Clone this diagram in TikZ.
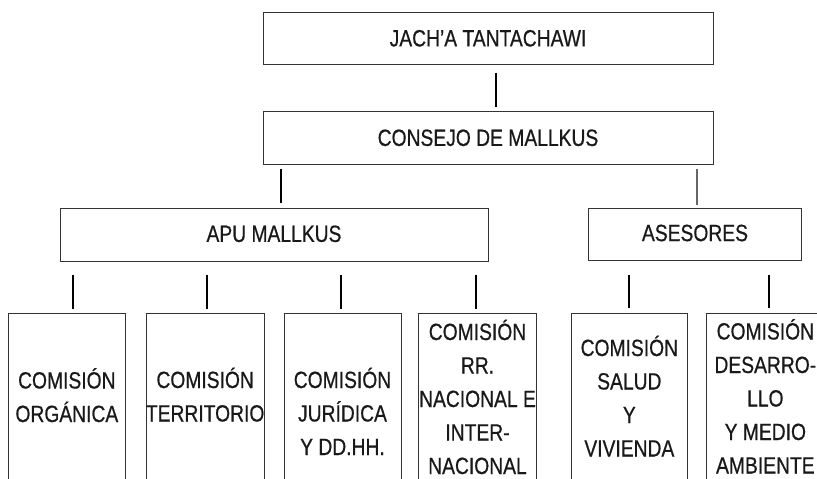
\documentclass[tikz,border=0pt]{standalone}
\usepackage{fontspec}
\setmainfont{Liberation Sans}[FakeStretch=0.82, FakeBold=0.6]
\newcommand\linestack[1]{\vtop{\baselineskip=33.5pt\lineskiplimit=-\maxdimen\lineskip=0pt\halign{\hfil##\hfil\cr#1\crcr}}}
\tikzset{
  box/.style={draw=black!80, line width=1pt, inner sep=0pt},
  lbl/.style={font=\fontsize{23.5pt}{33.5pt}\selectfont, text=black!90},
  capt/.style={lbl, text height=16.8pt, text depth=0pt},
  stacktext/.style={lbl, anchor=base, inner sep=0pt},
  conn/.style={line width=2pt, black},
  thinconn/.style={line width=1.2pt, black!60},
}
\begin{document}
\begin{tikzpicture}[x=1pt, y=-1pt]
\useasboundingbox (0,0) rectangle (817,479);
\clip (0,0) rectangle (817,479);

% upper boxes
\node[box, capt, minimum width=450pt, minimum height=52pt] (jach) at (488,38) {JACH’A TANTACHAWI};
\node[box, capt, minimum width=450pt, minimum height=53pt] (cons) at (488,137.5) {CONSEJO DE MALLKUS};
\node[box, capt, minimum width=428pt, minimum height=53.4pt, text depth=3pt] (apu) at (274,235) {APU MALLKUS};
\node[box, capt, minimum width=213.4pt, minimum height=51.7pt, text depth=3pt] (ases) at (695,234.2) {ASESORES};

% lower boxes (open at the bottom edge of the picture)
\node[box, anchor=north, minimum width=117.7pt, minimum height=200pt] (c1) at (66.85,312.5) {};
\node[box, anchor=north, minimum width=118.3pt, minimum height=200pt] (c2) at (205.15,312.5) {};
\node[box, anchor=north, minimum width=117pt, minimum height=200pt] (c3) at (342.5,312.5) {};
\node[box, anchor=north, minimum width=118.4pt, minimum height=200pt] (c4) at (477.5,312.5) {};
\node[box, anchor=north, minimum width=116.7pt, minimum height=200pt] (c5) at (629.35,312.5) {};
\node[box, anchor=north, minimum width=117.3pt, minimum height=200pt] (c6) at (765.35,312.5) {};

% texts of lower boxes
\node[stacktext] (t1) at (66.85,388.5) {\linestack{COMISIÓN\cr ORGÁNICA}};
\node[stacktext] (t2) at (205.15,388) {\linestack{COMISIÓN\cr TERRITORIO}};
\node[stacktext] (t3) at (342.5,388) {\linestack{COMISIÓN\cr JURÍDICA\cr Y DD.HH.}};
\node[stacktext] (t4) at (477.5,340) {\linestack{COMISIÓN\cr RR.\cr NACIONAL E\cr INTER-\cr NACIONAL}};
\node[stacktext] (t5) at (629.35,356) {\linestack{COMISIÓN\cr SALUD\cr Y\cr VIVIENDA}};
\node[stacktext] (t6) at (765.35,339.5) {\linestack{COMISIÓN\cr DESARRO-\cr LLO\cr Y MEDIO\cr AMBIENTE}};

% connectors
\draw[conn, shorten <=8pt, shorten >=4pt] ([xshift=8pt]jach.south) -- ([xshift=8pt]cons.north);
\draw[conn, shorten <=4pt, shorten >=5pt] ([xshift=7pt]apu.north |- cons.south) -- ([xshift=7pt]apu.north);
\draw[thinconn, shorten <=4pt, shorten >=3pt] ([xshift=2pt]ases.north |- cons.south) -- ([xshift=2pt]ases.north);

\draw[conn, shorten <=12.3pt, shorten >=3.5pt] ([xshift=5.85pt]c1.north |- apu.south) -- ([xshift=5.85pt]c1.north);
\draw[conn, shorten <=12.3pt, shorten >=3.5pt] ([xshift=1.85pt]c2.north |- apu.south) -- ([xshift=1.85pt]c2.north);
\draw[conn, shorten <=12.3pt, shorten >=3.5pt] ([xshift=-1.5pt]c3.north |- apu.south) -- ([xshift=-1.5pt]c3.north);
\draw[conn, shorten <=12.3pt, shorten >=3.5pt] ([xshift=-1.5pt]c4.north |- apu.south) -- ([xshift=-1.5pt]c4.north);
\draw[conn, shorten <=14pt, shorten >=4.5pt] (c5.north |- ases.south) -- (c5.north);
\draw[conn, shorten <=14pt, shorten >=4.5pt] ([xshift=4pt]c6.north |- ases.south) -- ([xshift=4pt]c6.north);
\end{tikzpicture}
\end{document}
